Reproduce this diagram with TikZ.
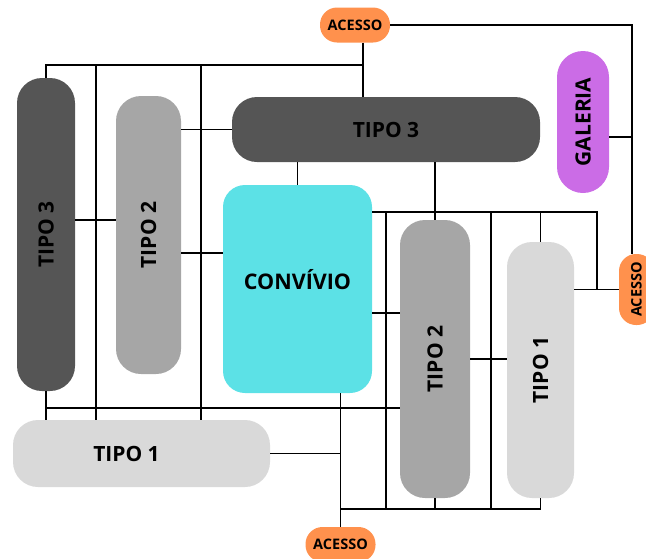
\documentclass[tikz,border=0pt]{standalone}
\usepackage{fontspec}
\setmainfont{Open Sans}
\usetikzlibrary{calc}
\definecolor{cinzaEscuro}{HTML}{555555}
\definecolor{cinzaMedio}{HTML}{A6A6A6}
\definecolor{cinzaClaro}{HTML}{D9D9D9}
\definecolor{ciano}{HTML}{5CE1E6}
\definecolor{lilas}{HTML}{CB6CE6}
\definecolor{laranja}{HTML}{FF914D}
\tikzset{
  caixa/.style={inner sep=0pt, rounded corners=25pt, font=\bfseries\fontsize{21}{24}\selectfont},
  acesso/.style={caixa, fill=laranja, rounded corners=17pt, font=\bfseries\fontsize{14.5}{16}\selectfont},
  linha/.style={line width=1.8pt}
}

\begin{document}
\begin{tikzpicture}[x=1pt, y=-1pt]
    \useasboundingbox (0,0) rectangle (646,558);
    % ambientes
    \node[acesso, minimum width=70pt, minimum height=35pt] (acTop) at (355,25) {ACESSO};
    \node[acesso, minimum width=35pt, minimum height=71pt] (acDir) at (636.5,289.5) {\rotatebox{90}{ACESSO}};
    \node[acesso, minimum width=70pt, minimum height=35pt] (acBaixo) at (340.5,544.5) {ACESSO};
    \node[caixa, fill=cinzaEscuro, minimum width=58pt, minimum height=313pt] (tipoTresV) at (46,234.5) {\rotatebox{90}{TIPO 3}};
    \node[caixa, fill=cinzaMedio, minimum width=65pt, minimum height=278pt] (tipoDoisV) at (148.5,235) {\rotatebox{90}{TIPO 2}};
    \node[caixa, fill=cinzaEscuro, minimum width=308pt, minimum height=65pt] (tipoTresH) at (386,129.5) {TIPO 3};
    \node[caixa, fill=ciano, rounded corners=22pt, minimum width=149pt, minimum height=208pt, font=\bfseries\fontsize{21.5}{24}\selectfont] (convivio) at (297.5,289) {\raisebox{9pt}[\height][\depth]{CONVÍVIO}};
    \node[caixa, fill=lilas, rounded corners=26pt, minimum width=52pt, minimum height=142pt] (galeria) at (583,122) {\rotatebox{90}{GALERIA}};
    \node[caixa, fill=cinzaMedio, minimum width=70pt, minimum height=278pt] (tipoDoisD) at (435,359) {\rotatebox{90}{TIPO 2}};
    \node[caixa, fill=cinzaClaro, minimum width=67pt, minimum height=256pt] (tipoUmD) at (540.5,370) {\rotatebox{90}{TIPO 1}};
    \node[caixa, fill=cinzaClaro, minimum width=257pt, minimum height=67pt] (tipoUmH) at (141.5,453.5) {\hspace*{-30pt}TIPO 1};
    % barramentos
    \coordinate (xDir) at (632,0); \coordinate (xConv) at (597,0);
    \coordinate (yTopo) at (0,65); \coordinate (yConv) at (0,212);
    \coordinate (yMeio) at (0,408); \coordinate (yBaixo) at (0,509);
    \coordinate (xAc) at ($(acTop.south)+(8,0)$);
    % ligações de cima
    \draw[linha] (acTop.east) -| (acDir.north -| xDir);
    \draw[linha] ($(galeria.east)+(0,15)$) coordinate (g) -- (g -| xDir);
    \draw[linha] (tipoTresV.north) |- (xAc |- yTopo);
    \draw[linha] (xAc) -- (xAc |- tipoTresH.north);
    \foreach \x in {96,201} {
        \coordinate (v) at (\x,0);
        \draw[linha] (v |- yTopo) -- (v |- tipoUmH.north);
    }
    \draw[linha] (tipoTresH.west) -- (tipoTresH.west -| tipoDoisV.east);
    \draw[linha] ($(tipoTresV.east)+(0,-14.5)$) coordinate (a) -- (a -| tipoDoisV.west);
    \draw[linha] ($(convivio.west)+(0,-36)$) coordinate (a) -- (a -| tipoDoisV.east);
    \draw[linha] (convivio.north) -- (convivio.north |- tipoTresH.south);
    \draw[linha] (tipoDoisD.north) -- (tipoDoisD.north |- tipoTresH.south);
    % ligações da direita
    \draw[linha] (convivio.east |- yConv) -| (xConv |- acDir.west);
    \foreach \x in {386,491} {
        \coordinate (v) at (\x,0);
        \draw[linha] (v |- yConv) -- (v |- yBaixo);
    }
    \draw[linha] (tipoUmD.north) -- (tipoUmD.north |- yConv);
    \draw[linha] (acDir.west) -- (acDir.west -| tipoUmD.east);
    \draw[linha] ($(convivio.east)+(0,24)$) coordinate (a) -- (a -| tipoDoisD.west);
    \draw[linha] (tipoDoisD.east) -- (tipoDoisD.east -| tipoUmD.west);
    % ligações de baixo
    \draw[linha] (tipoTresV.south) -- (tipoTresV.south |- tipoUmH.north);
    \draw[linha] (tipoTresV.south |- yMeio) -- (tipoDoisD.west |- yMeio);
    \draw[linha] (tipoUmH.east) -- (tipoUmH.east -| acBaixo.north);
    \draw[linha] (convivio.south -| acBaixo.north) -- (acBaixo.north);
    \draw[linha] (acBaixo.north |- yBaixo) -| (tipoUmD.south);
    \draw[linha] (tipoDoisD.south) -- (tipoDoisD.south |- yBaixo);
\end{tikzpicture}
\end{document}
